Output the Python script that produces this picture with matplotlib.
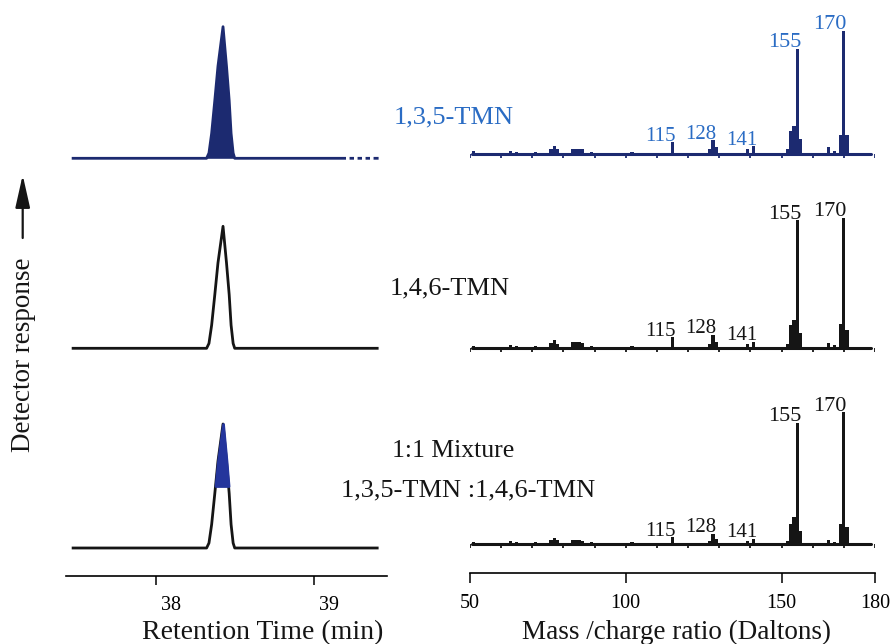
import numpy as np
import matplotlib
matplotlib.use("Agg")
import matplotlib.pyplot as plt
from matplotlib.transforms import ScaledTranslation
from matplotlib.patches import FancyArrowPatch, ArrowStyle

plt.rcParams['font.family'] = ['Liberation Serif', 'DejaVu Serif']

# ---------------- data ----------------
# chromatographic peak profile (relative response, 100 = apex)
chrom_t = [37.475, 38.320, 38.335, 38.352, 38.372, 38.392, 38.424,
           38.446, 38.463, 38.475, 38.488, 38.498, 39.40]
chrom_y = [0, 0, 4, 19, 44, 70, 100, 70, 44, 19, 4, 0, 0]
chrom_apex = [131.6, 122.0, 124.0]          # apex response of each trace
mix_fraction = 50                            # 1,3,5-TMN share in the 1:1 mixture (%)
rt_ticks = [38, 39]

# mass spectra: m/z and relative abundance (% of base peak 170)
ms_mz_top = [51, 63, 65, 71, 76, 77, 78, 83, 84, 85, 86, 89, 102, 115, 127, 128, 129,
             139, 141, 152, 153, 154, 155, 156, 165, 167, 169, 170, 171]
ms_int_top = [2.4, 2.4, 1.6, 1.6, 3.3, 5.7, 4.0, 4.0, 4.0, 4.0, 3.3, 1.6, 1.6, 9.0, 4.0,
              10.6, 4.9, 4.0, 5.7, 3.3, 18, 22, 85, 12, 4.9, 2.4, 15, 100, 15]
ms_mz_mid = [51, 63, 65, 71, 76, 77, 78, 83, 84, 85, 86, 89, 102, 115, 127, 128, 129,
             139, 141, 152, 153, 154, 155, 156, 165, 167, 169, 170, 171]
ms_int_mid = [1.5, 2.3, 1.5, 1.5, 3.8, 5.4, 3.0, 4.6, 4.6, 4.6, 3.8, 1.5, 1.5, 7.7, 3.0,
              10.0, 4.6, 3.0, 4.6, 3.0, 17, 21.5, 98, 11.5, 3.8, 2.3, 17.7, 100, 13.8]
ms_mz_bot = [51, 63, 65, 71, 76, 77, 78, 83, 84, 85, 86, 89, 102, 115, 127, 128, 129,
             139, 141, 152, 153, 154, 155, 156, 165, 167, 169, 170, 171]
ms_int_bot = [1.5, 2.3, 1.5, 1.5, 3.0, 4.6, 3.0, 3.0, 3.0, 3.0, 2.3, 1.5, 1.5, 5.3, 2.3,
              7.6, 3.8, 2.3, 3.8, 2.3, 15, 20.5, 92, 10, 3.0, 1.5, 15, 100, 13]
ms_base_height = [123.0, 130.0, 131.7]       # drawn height of base peak
ms_range = (50.5, 178.7)
ms_labels = [115, 128, 141, 155, 170]
mz_ticks = [50, 100, 150, 180]
mz_minor = list(range(50, 181, 10))

names = ["1,3,5-TMN", "1,4,6-TMN", "1:1 Mixture", "1,3,5-TMN :1,4,6-TMN"]

# ---------------- style ----------------
NAVY = '#1c2a70'
FILL2 = '#24359c'
BLUE_TXT = '#2a6cc4'
BLACK = '#151515'

W, H = 890, 644
fig = plt.figure(figsize=(W / 100, H / 100), dpi=100)

def fx(px):
    return px / W

def fy(py):
    return 1 - py / H

# left axes (chromatograms)
axL_bottom = 575.7
axL = fig.add_axes([fx(66), fy(axL_bottom), fx(387 - 66), axL_bottom / H])
axL.set_xlim(37.430, 39.462)
axL.set_ylim(0, axL_bottom)
chrom_off = [axL_bottom - 158.3, axL_bottom - 348.3, axL_bottom - 548.0]

t = np.array(chrom_t)
y = np.array(chrom_y, dtype=float)
for i in range(3):
    s = chrom_apex[i] / 100.0
    off = chrom_off[i]
    if i == 0:
        axL.fill_between(t, off, off + y * s, color=NAVY, lw=0)
        axL.plot(t, off + y * s, color=NAVY, lw=2.0)
        # dotted tail of the baseline
        axL.plot([39.20, t[-1]], [off, off], color='white', lw=3.2, ls=(0, (0.8, 1.0)))
    else:
        axL.plot(t, off + y * s, color=BLACK, lw=2.0, solid_joinstyle='round')
    if i == 2:
        thr = off + mix_fraction * s
        axL.fill_between(t, thr, off + y * s, where=(y >= mix_fraction),
                         interpolate=True, facecolor=FILL2, edgecolor=FILL2,
                         lw=2.0, zorder=3)

for sp in ['top', 'right', 'left']:
    axL.spines[sp].set_visible(False)
axL.spines['bottom'].set_linewidth(1.2)
axL.set_yticks([])
axL.set_xticks(rt_ticks)
axL.set_xticklabels([str(v) for v in rt_ticks])
axL.tick_params(axis='x', direction='out', length=6.5, width=1.1, pad=8, labelsize=14.5)
for lab in axL.get_xticklabels():
    lab.set_transform(lab.get_transform() + ScaledTranslation(15 / 100, 0, fig.dpi_scale_trans))
axL.patch.set_alpha(0)

# right axes (mass spectra)
axR_bottom = 573.0
axR = fig.add_axes([fx(470), fy(axR_bottom), fx(405), axR_bottom / H])
axR.set_xlim(50, 180)
axR.set_ylim(0, axR_bottom)
ms_off = [axR_bottom - 153.5, axR_bottom - 347.5, axR_bottom - 544.0]
spectra = [(ms_mz_top, ms_int_top), (ms_mz_mid, ms_int_mid), (ms_mz_bot, ms_int_bot)]
ms_colors = [NAVY, BLACK, BLACK]
lab_colors = [BLUE_TXT, BLACK, BLACK]

for i, (mz, inten) in enumerate(spectra):
    s = ms_base_height[i] / 100.0
    off = ms_off[i]
    c = ms_colors[i]
    mz = np.array(mz)
    inten = np.array(inten)
    axR.bar(mz, inten * s, width=1.0, bottom=off, color=c, lw=0)
    axR.plot(ms_range, [off, off], color=c, lw=2.2, solid_capstyle='round')
    axR.vlines(mz_minor, off - 4, off, color=c, lw=1.3)
    for m in ms_labels:
        h = inten[list(mz).index(m)] * s
        if m >= 150:
            dx = -3.8 if m == 155 else -4.6
            size = 16
        else:
            dx = -3.9
            size = 15
        axR.text(m + dx, off + h + 1.5, str(m), ha='center', va='baseline',
                 fontsize=size, color=lab_colors[i])

for sp in ['top', 'right', 'left']:
    axR.spines[sp].set_visible(False)
axR.spines['bottom'].set_linewidth(1.2)
axR.set_yticks([])
axR.set_xticks(mz_ticks)
axR.set_xticklabels([str(v) for v in mz_ticks])
axR.tick_params(axis='x', direction='out', length=7, width=1.1, pad=8, labelsize=14.5)
axR.patch.set_alpha(0)

# compound labels
fig.text(fx(454), fy(117), names[0], ha='center', va='center', fontsize=19, color=BLUE_TXT)
fig.text(fx(450), fy(288), names[1], ha='center', va='center', fontsize=19, color=BLACK)
fig.text(fx(453), fy(451), names[2], ha='center', va='center', fontsize=18.5, color=BLACK)
fig.text(fx(468), fy(490), names[3], ha='center', va='center', fontsize=19, color=BLACK)

# axis titles
fig.text(fx(263), fy(639), "Retention Time (min)", ha='center', va='baseline', fontsize=20, color=BLACK)
fig.text(fx(676), fy(639), "Mass /charge ratio (Daltons)", ha='center', va='baseline', fontsize=19.5, color=BLACK)

# y label with arrow
fig.text(fx(24), fy(355), "Detector response", rotation=90, ha='center', va='center',
         fontsize=19.5, color=BLACK)
arrow = FancyArrowPatch((fx(22.7), fy(238)), (fx(22.7), fy(175)), transform=fig.transFigure,
                        arrowstyle=ArrowStyle('-|>', head_length=2.0, head_width=0.45),
                        mutation_scale=10, color=BLACK, lw=1.6, shrinkA=0, shrinkB=0)
fig.patches.append(arrow)

fig.savefig("out.png", dpi=100, facecolor='white')
